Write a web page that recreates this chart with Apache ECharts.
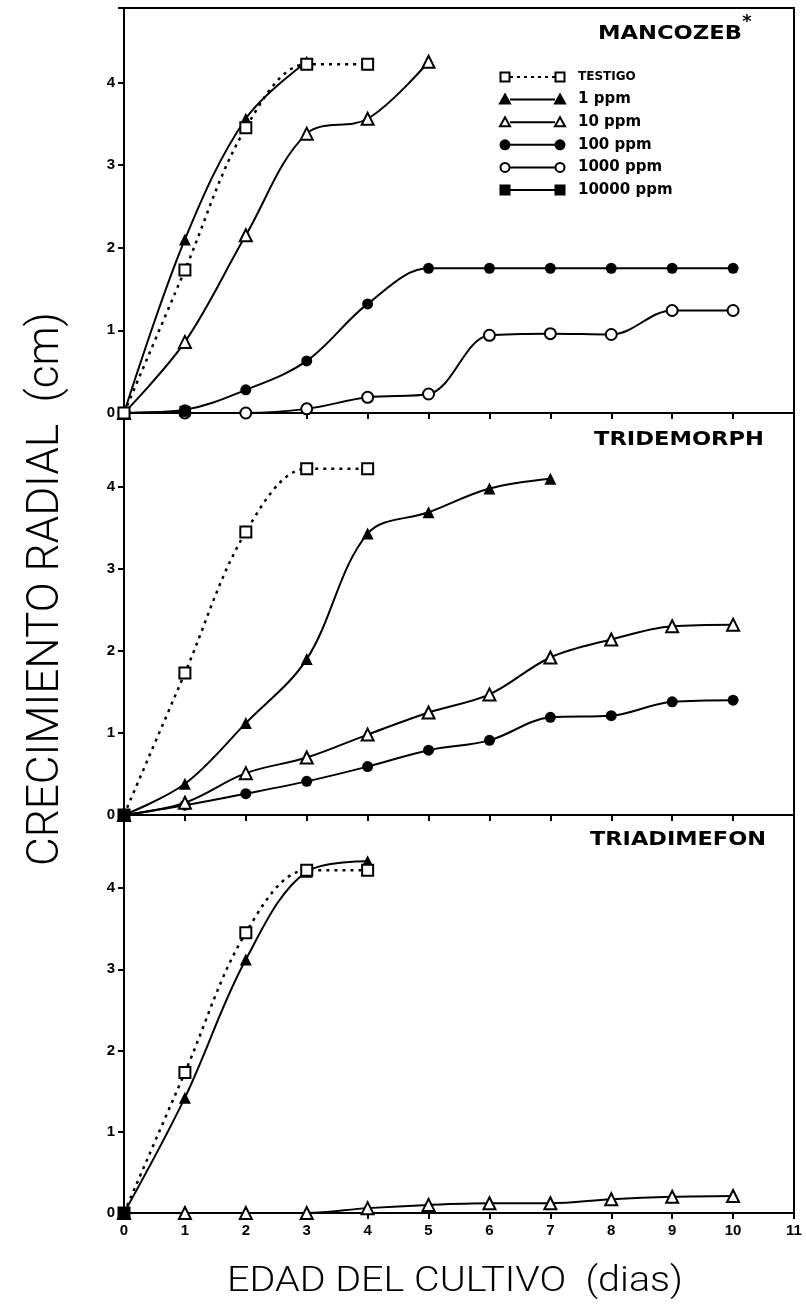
<!DOCTYPE html>
<html>
<head>
<meta charset="utf-8">
<script src="https://cdn.jsdelivr.net/npm/echarts@6/dist/echarts.min.js"></script>
<style>
  html, body { margin: 0; padding: 0; background: #fff; }
  #chart { width: 806px; height: 1305px; }
</style>
</head>
<body>
<div id="chart"></div>
<script>
// days of culture (x) and tick labels
const days = [0, 1, 2, 3, 4, 5, 6, 7, 8, 9, 10]
const xTickLabels = ['0', '1', '2', '3', '4', '5', '6', '7', '8', '9', '10', '11']
const yTickLabels = ['0', '1', '2', '3', '4']

// radial growth (cm), control is the same in every panel
const testigo = [0, 1.73, 3.45, 4.22, 4.22]

const mancozeb1 = [0, 2.1, 3.56, 4.25]
const mancozeb10 = [0, 0.86, 2.15, 3.38, 3.56, 4.25]
const mancozeb100 = [0, 0.04, 0.28, 0.63, 1.32, 1.75, 1.75, 1.75, 1.75, 1.75, 1.75]
const mancozeb1000 = [0, 0, 0, 0.05, 0.19, 0.23, 0.94, 0.96, 0.95, 1.24, 1.24]
const mancozeb10000 = [0, 0.02]

const tridemorph1 = [0, 0.38, 1.12, 1.9, 3.43, 3.69, 3.98, 4.1]
const tridemorph10 = [0, 0.15, 0.51, 0.7, 0.98, 1.25, 1.47, 1.92, 2.14, 2.3, 2.32]
const tridemorph100 = [0, 0.12, 0.26, 0.41, 0.59, 0.79, 0.91, 1.19, 1.21, 1.38, 1.4]
const tridemorph10000 = [0]

const triadimefon1 = [0, 1.42, 3.12, 4.2, 4.33]
const triadimefon10 = [0, 0, 0, 0, 0.06, 0.1, 0.12, 0.12, 0.17, 0.2, 0.21]
const triadimefon10000 = [0]

const panelTitles = ['MANCOZEB', 'TRIDEMORPH', 'TRIADIMEFON']
const legendNames = ['TESTIGO', '1 ppm', '10 ppm', '100 ppm', '1000 ppm', '10000 ppm']

// marker look per treatment
const looks = {
  'TESTIGO':   { symbol: 'rect', filled: false, dash: [3, 5] },
  '1 ppm':     { symbol: 'triangle', filled: true },
  '10 ppm':    { symbol: 'triangle', filled: false },
  '100 ppm':   { symbol: 'circle', filled: true },
  '1000 ppm':  { symbol: 'circle', filled: false },
  '10000 ppm': { symbol: 'rect', filled: true },
}

const panels = [
  [['1000 ppm', mancozeb1000], ['100 ppm', mancozeb100], ['10 ppm', mancozeb10], ['1 ppm', mancozeb1], ['10000 ppm', mancozeb10000], ['TESTIGO', testigo]],
  [['100 ppm', tridemorph100], ['10 ppm', tridemorph10], ['1 ppm', tridemorph1], ['TESTIGO', testigo], ['10000 ppm', tridemorph10000]],
  [['10 ppm', triadimefon10], ['1 ppm', triadimefon1], ['TESTIGO', testigo], ['10000 ppm', triadimefon10000]],
]

const gridBoxes = [
  { top: 8, height: 405 },
  { top: 413, height: 402 },
  { top: 815, height: 398 },
]

const measureCtx = document.createElement('canvas').getContext('2d')
function fitScale(text, font, width) {
  measureCtx.font = font
  return width / measureCtx.measureText(text).width
}

function makeSeries(name, values, panel) {
  const look = looks[name]
  return {
    name,
    type: 'line',
    xAxisIndex: panel,
    yAxisIndex: panel,
    data: values.map((v, i) => [days[i], v]),
    smooth: 0.35,
    symbol: look.symbol,
    symbolSize: look.symbol === 'triangle' ? 12 : 11,
    lineStyle: { color: '#000', width: look.dash ? 2.5 : 2, type: look.dash || 'solid' },
    itemStyle: {
      color: look.filled ? '#000' : '#fff',
      borderColor: '#000',
      borderWidth: look.filled ? 0 : 2,
    },
    silent: true,
  }
}

function legendSymbol(name, cx, cy) {
  const look = looks[name]
  const style = { fill: look.filled ? '#000' : '#fff', stroke: '#000', lineWidth: 2 }
  if (look.symbol === 'rect') return { type: 'rect', shape: { x: cx - 4.5, y: cy - 4.5, width: 9, height: 9 }, style, z: 10 }
  if (look.symbol === 'circle') return { type: 'circle', shape: { cx, cy, r: 4.5 }, style, z: 10 }
  return { type: 'polygon', shape: { points: [[cx, cy - 5], [cx + 5, cy + 4], [cx - 5, cy + 4]] }, style, z: 10 }
}

const graphics = []

// legend inside the first panel
legendNames.forEach((name, i) => {
  const y = 77 + i * 22.6
  const look = looks[name]
  graphics.push({
    type: 'line',
    shape: { x1: 510, y1: y, x2: 555, y2: y },
    style: { stroke: '#000', lineWidth: 2, lineDash: look.dash ? [3, 4] : null },
    z: 9,
  })
  graphics.push(legendSymbol(name, 505, y))
  graphics.push(legendSymbol(name, 560, y))
  const font = name === 'TESTIGO' ? 'bold 12px "DejaVu Sans"' : 'bold 15px "DejaVu Sans"'
  graphics.push({
    type: 'text', x: 578, y, z: 10,
    style: { text: name, font, fill: '#000', textAlign: 'left', textVerticalAlign: 'middle', verticalAlign: 'middle' },
  })
})

// panel titles
const titleSpots = [
  { right: 742, y: 34, width: 144 },
  { right: 764, y: 440, width: 170 },
  { right: 766, y: 840, width: 176 },
]
panelTitles.forEach((t, i) => {
  const font = 'bold 19px "DejaVu Sans"'
  graphics.push({
    type: 'text', x: titleSpots[i].right, y: titleSpots[i].y,
    scaleX: fitScale(t, font, titleSpots[i].width),
    style: { text: t, font, fill: '#000', textAlign: 'right', textVerticalAlign: 'middle', verticalAlign: 'middle' },
  })
})
graphics.push({
  type: 'text', x: 747, y: 22,
  style: { text: '*', font: 'bold 18px "DejaVu Sans"', fill: '#000', textAlign: 'center', textVerticalAlign: 'middle', verticalAlign: 'middle' },
})

// axis titles
const yTitle = 'CRECIMIENTO RADIAL  (cm)'
const yFont = '300 44px Roboto'
graphics.push({
  type: 'text', x: 47, y: 589, rotation: Math.PI / 2,
  scaleX: fitScale(yTitle, yFont, 554),
  style: { text: yTitle, font: yFont, fill: '#000', textAlign: 'center', textVerticalAlign: 'middle', verticalAlign: 'middle' },
})
const xTitle = 'EDAD DEL CULTIVO  (dias)'
const xFont = '300 35px Roboto'
graphics.push({
  type: 'text', x: 455, y: 1282,
  scaleX: fitScale(xTitle, xFont, 456),
  style: { text: xTitle, font: xFont, fill: '#000', textAlign: 'center', textVerticalAlign: 'middle', verticalAlign: 'middle' },
})

const tickFont = { color: '#000', fontSize: 15, fontWeight: 'bold', fontFamily: 'Liberation Sans' }

const option = {
  backgroundColor: '#fff',
  animation: false,
  grid: gridBoxes.map(b => ({
    left: 124, right: 12, top: b.top, height: b.height,
    show: true, borderColor: '#000', borderWidth: 2, backgroundColor: 'transparent',
  })),
  xAxis: gridBoxes.map((b, i) => ({
    type: 'value', gridIndex: i, min: 0, max: 11, interval: 1,
    axisLine: { show: true, onZero: false, lineStyle: { color: '#000', width: 2 } },
    axisTick: { show: true, length: 6, lineStyle: { color: '#000', width: 2 } },
    axisLabel: {
      show: i === 2, margin: 10, ...tickFont,
      formatter: v => xTickLabels[v] ?? '',
    },
    splitLine: { show: false },
  })),
  yAxis: gridBoxes.map((b, i) => ({
    type: 'value', gridIndex: i, min: 0, max: 4.9, interval: 1,
    axisLine: { show: true, lineStyle: { color: '#000', width: 2 } },
    axisTick: { show: true, length: 6, lineStyle: { color: '#000', width: 2 } },
    axisLabel: {
      margin: 9, ...tickFont,
      formatter: v => (Number.isInteger(v) ? (yTickLabels[v] ?? '') : ''),
    },
    splitLine: { show: false },
  })),
  series: panels.flatMap((list, p) => list.map(([name, values]) => makeSeries(name, values, p))),
  graphic: graphics,
}

const chart = echarts.init(document.getElementById('chart'))
chart.setOption(option)
</script>
</body>
</html>
